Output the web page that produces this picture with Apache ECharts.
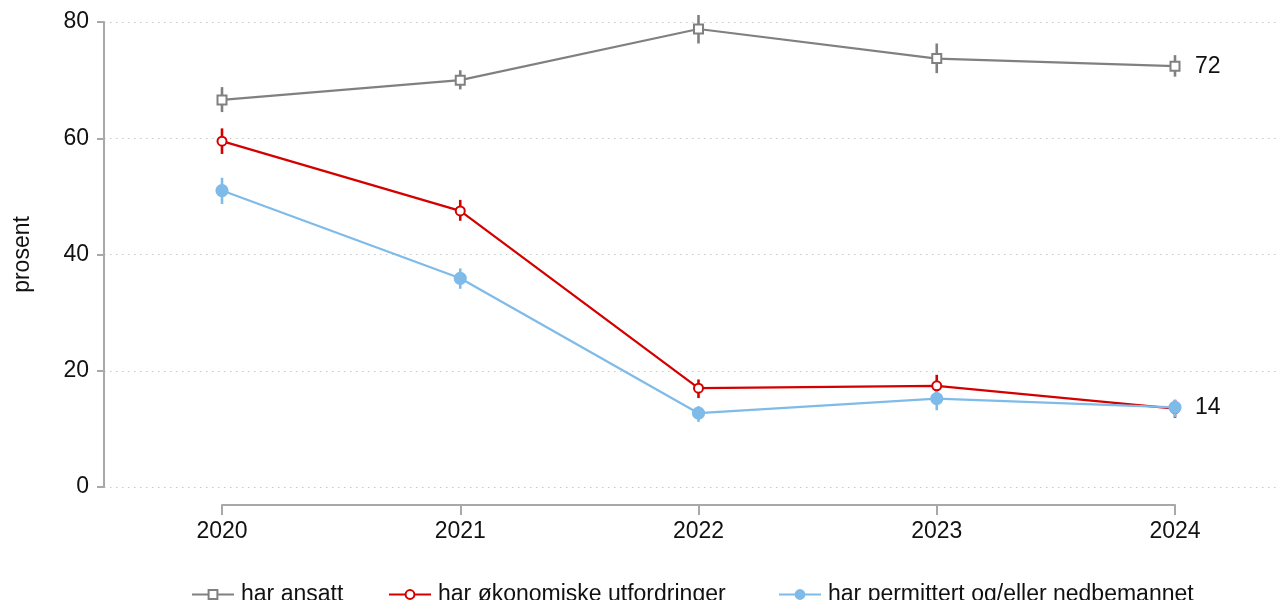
<!DOCTYPE html>
<html>
<head>
<meta charset="utf-8">
<script src="https://cdn.jsdelivr.net/npm/echarts@6/dist/echarts.min.js"></script>
<style>
  html, body { margin: 0; padding: 0; background: #fff; }
  #chart { width: 1288px; height: 600px; }
</style>
</head>
<body>
<div id="chart"></div>
<script>
// Survey years
const years = [2020, 2021, 2022, 2023, 2024];

// Share (percent) with confidence interval bounds
const ansatt   = [66.6, 70.0, 78.8, 73.7, 72.4];
const ansattLo = [64.5, 68.4, 76.3, 71.2, 70.6];
const ansattHi = [68.8, 71.7, 81.2, 76.3, 74.3];

const okonomi   = [59.5, 47.5, 17.0, 17.4, 13.5];
const okonomiLo = [57.3, 45.8, 15.3, 16.0, 11.9];
const okonomiHi = [61.7, 49.4, 18.5, 19.3, 15.0];

const permittert   = [51.0, 35.9, 12.7, 15.2, 13.7];
const permittertLo = [48.7, 34.1, 11.2, 13.2, 12.0];
const permittertHi = [53.2, 37.6, 13.9, 16.5, 15.0];

const yTicks = [0, 20, 40, 60, 80];

const names = ['har ansatt', 'har økonomiske utfordringer', 'har permittert og/eller nedbemannet'];
const colors = ['#808080', '#d40000', '#7fbbe8'];

const FONT = '"Liberation Sans", Arial, Helvetica, sans-serif';
const FS = 23;

function pairs(vals) { return years.map((y, i) => [y, vals[i]]); }
function ranges(lo, hi) { return years.map((y, i) => [y, lo[i], hi[i]]); }

function errorBars(name, lo, hi, color) {
  return {
    type: 'custom',
    name: name + ' CI',
    xAxisIndex: 0, yAxisIndex: 0,
    data: ranges(lo, hi),
    silent: true,
    z: 1,
    renderItem: function (params, api) {
      const top = api.coord([api.value(0), api.value(2)]);
      const bot = api.coord([api.value(0), api.value(1)]);
      return {
        type: 'line',
        shape: { x1: top[0], y1: top[1], x2: bot[0], y2: bot[1] },
        style: { stroke: color, lineWidth: 2.6 }
      };
    }
  };
}

function lineSeries(name, vals, color, symbol, size, endLabel) {
  return {
    type: 'line',
    name: name,
    xAxisIndex: 0, yAxisIndex: 0,
    data: pairs(vals),
    symbol: symbol,
    symbolSize: size,
    showAllSymbol: true,
    lineStyle: { color: color, width: 2.2 },
    itemStyle: { color: color, borderColor: color, borderWidth: 2.2 },
    z: 2,
    endLabel: endLabel ? {
      show: true,
      distance: 20,
      color: '#111',
      fontFamily: FONT,
      fontSize: FS,
      formatter: p => String(Math.round(p.value[1]))
    } : { show: false },
    emphasis: { disabled: true }
  };
}

const chart = echarts.init(document.getElementById('chart'), null, { renderer: 'canvas' });

// Data grid; the year axis is drawn in a thin grid underneath, spanning 2020–2024 only
const plotLeft = 104, plotRight = 1276, x2020 = 222, x2024 = 1175;
const pxPerYear = (x2024 - x2020) / 4;
const xMin = 2020 - (x2020 - plotLeft) / pxPerYear;
const xMax = 2024 + (plotRight - x2024) / pxPerYear;

function legendAt(left, idx) {
  return {
    show: true,
    data: [names[idx]],
    left: left,
    top: 578,
    itemWidth: 42,
    itemHeight: 11,
    textStyle: { fontFamily: FONT, fontSize: FS, color: '#111', padding: [0, 0, 0, 2] },
    selectedMode: false
  };
}

chart.setOption({
  animation: false,
  backgroundColor: '#ffffff',
  textStyle: { fontFamily: FONT },
  grid: [
    { left: plotLeft, right: 1288 - plotRight, top: 22, bottom: 600 - 487 },
    { left: x2020, right: 1288 - x2024, top: 504, height: 1 }
  ],
  xAxis: [
    { type: 'value', gridIndex: 0, min: xMin, max: xMax, show: false },
    {
      type: 'value', gridIndex: 1, min: 2020, max: 2024, interval: 1,
      axisLine: { show: true, lineStyle: { color: '#a8a8a8', width: 2 } },
      axisTick: { show: true, length: 10, lineStyle: { color: '#a8a8a8', width: 2 } },
      axisLabel: { show: true, margin: 15, color: '#111', fontFamily: FONT, fontSize: FS, formatter: v => String(v) },
      splitLine: { show: false }
    }
  ],
  yAxis: [
    {
      type: 'value', gridIndex: 0, min: 0, max: 80, interval: 20,
      name: 'prosent',
      nameLocation: 'middle',
      nameGap: 70,
      nameRotate: 90,
      nameTextStyle: { fontFamily: FONT, fontSize: FS, color: '#111' },
      axisLine: { show: true, lineStyle: { color: '#a8a8a8', width: 2 } },
      axisTick: { show: true, length: 7, lineStyle: { color: '#a8a8a8', width: 2 } },
      axisLabel: {
        margin: 15, color: '#111', fontFamily: FONT, fontSize: FS,
        formatter: v => (yTicks.indexOf(v) >= 0 ? String(v) : '')
      },
      splitLine: { show: true, lineStyle: { color: '#c8c8c8', width: 1.2, type: [1.5, 4.5] } }
    },
    { type: 'value', gridIndex: 1, show: false, min: 0, max: 1 }
  ],
  legend: [legendAt(186, 0), legendAt(383, 1), legendAt(773, 2)],
  series: [
    errorBars(names[0], ansattLo, ansattHi, colors[0]),
    lineSeries(names[0], ansatt, colors[0], 'emptyRect', 9, true),
    errorBars(names[1], okonomiLo, okonomiHi, colors[1]),
    lineSeries(names[1], okonomi, colors[1], 'emptyCircle', 9, false),
    errorBars(names[2], permittertLo, permittertHi, colors[2]),
    lineSeries(names[2], permittert, colors[2], 'circle', 11, true)
  ]
});
</script>
</body>
</html>
